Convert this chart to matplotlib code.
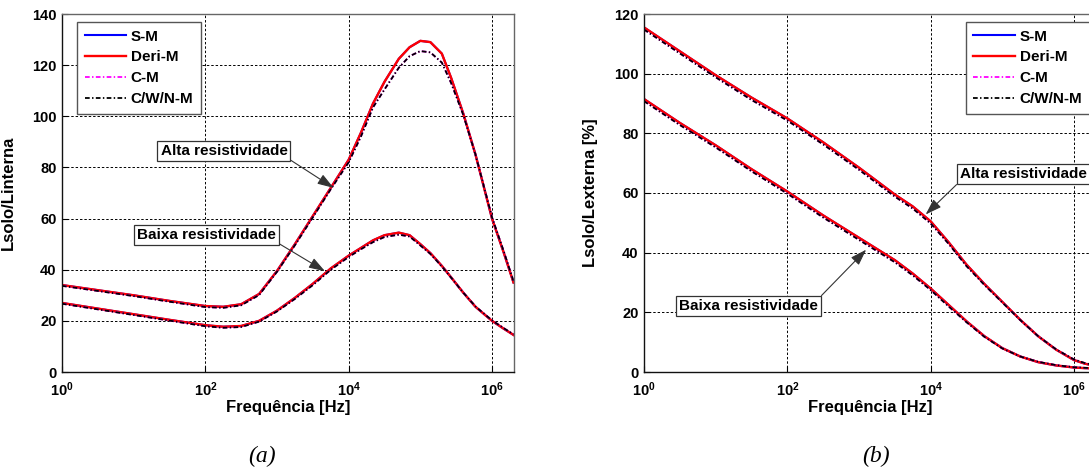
import numpy as np
import matplotlib
matplotlib.use("Agg")
import matplotlib.pyplot as plt

plt.rcParams["font.family"] = ["Liberation Sans", "DejaVu Sans"]
plt.rcParams["font.weight"] = "bold"
plt.rcParams["mathtext.fontset"] = "custom"
plt.rcParams["mathtext.bf"] = "Liberation Sans:bold"
plt.rcParams["mathtext.rm"] = "Liberation Sans"

# ---- data (frequency exponents, log10 Hz) ----
exp_a = [0, 0.5, 1, 1.5, 2, 2.25, 2.5, 2.75, 3, 3.25, 3.5, 3.75, 4, 4.17, 4.34,
         4.5, 4.7, 4.85, 5, 5.14, 5.3, 5.43, 5.6, 5.77, 6, 6.16, 6.3]

alta_deri_a = [34, 32, 30, 27.8, 25.8, 25.5, 26.5, 30.5, 39.5, 50, 61, 72, 83, 93.5, 105,
               113.5, 122.5, 127, 129.5, 129, 124.5, 115, 101, 85, 60, 47, 35]
alta_cwn_a = [33.7, 31.7, 29.7, 27.5, 25.4, 25.1, 26.1, 30.1, 39.2, 49.6, 60.5, 71.5, 82, 92, 103.5,
              110.5, 119, 123.5, 125.5, 125, 121, 113, 100.5, 85, 60.5, 47.5, 35.5]
baixa_deri_a = [27, 24.8, 22.6, 20.4, 18.3, 17.7, 18, 20, 24, 29, 34.5, 40.5, 45.5, 48.5, 51.5,
                53.5, 54.5, 53.5, 50, 46.5, 41.5, 37, 31, 25.5, 20, 17, 14.5]
baixa_cwn_a = [26.7, 24.5, 22.3, 20.1, 17.9, 17.3, 17.6, 19.7, 23.7, 28.6, 34, 40, 45, 48, 50.8,
               52.8, 53.7, 53, 49.5, 46.2, 41.3, 36.9, 31, 25.6, 20.2, 17.2, 14.7]

exp_b = [0, 0.5, 1, 1.5, 2, 2.5, 3, 3.5, 3.75, 4, 4.25, 4.5, 4.75, 5, 5.25, 5.5, 5.75,
         6, 6.15, 6.3]

alta_deri_b = [115.5, 107.5, 99.5, 92, 85, 77, 68.5, 59.5, 55.5, 50.5, 43.5, 36, 29.5, 23.5,
               17.5, 12, 7.5, 4, 2.8, 2]
alta_cwn_b = [114.8, 106.8, 98.8, 91.2, 84.3, 76.3, 67.8, 58.8, 54.8, 49.8, 43, 35.5, 29.2, 23.3,
              17.4, 12, 7.6, 4.2, 3, 2.2]
baixa_deri_b = [91.5, 83.5, 76, 68, 60.5, 52.5, 45, 37.5, 33, 28, 22.5, 17, 12, 8,
                5.2, 3.3, 2.2, 1.5, 1.3, 1.2]
baixa_cwn_b = [90.8, 82.8, 75.3, 67.3, 59.8, 51.8, 44.3, 36.8, 32.4, 27.5, 22, 16.7, 11.8, 7.9,
               5.2, 3.4, 2.3, 1.6, 1.4, 1.3]

# S-M lies under Deri-M and C-M under C/W/N-M in the picture
alta_sm_a, baixa_sm_a = alta_deri_a, baixa_deri_a
alta_cm_a, baixa_cm_a = alta_cwn_a, baixa_cwn_a
alta_sm_b, baixa_sm_b = alta_deri_b, baixa_deri_b
alta_cm_b, baixa_cm_b = alta_cwn_b, baixa_cwn_b

series_names = ["S-M", "Deri-M", "C-M", "C/W/N-M"]
xtick_exp = [0, 2, 4, 6]

W, H = 1089, 474
fig = plt.figure(figsize=(W / 100, H / 100), dpi=100)
ax_a = fig.add_axes([62 / W, 1 - 372 / H, 452 / W, 358 / H])
ax_b = fig.add_axes([644 / W, 1 - 372 / H, 452 / W, 358 / H])

dashdot = (0, (2.6, 1.3, 0.8, 1.3))


def draw(ax, exps, sm, deri, cm, cwn):
    f = 10.0 ** np.array(exps)
    for i in range(len(sm)):
        ax.plot(f, sm[i], color="blue", lw=1.5, label=series_names[0] if i == 0 else None)
        ax.plot(f, deri[i], color="red", lw=1.7, label=series_names[1] if i == 0 else None)
        ax.plot(f, cm[i], color="magenta", lw=1.3, ls=dashdot, label=series_names[2] if i == 0 else None)
        ax.plot(f, cwn[i], color="black", lw=1.3, ls=dashdot, label=series_names[3] if i == 0 else None)


draw(ax_a, exp_a, [alta_sm_a, baixa_sm_a], [alta_deri_a, baixa_deri_a],
     [alta_cm_a, baixa_cm_a], [alta_cwn_a, baixa_cwn_a])
draw(ax_b, exp_b, [alta_sm_b, baixa_sm_b], [alta_deri_b, baixa_deri_b],
     [alta_cm_b, baixa_cm_b], [alta_cwn_b, baixa_cwn_b])

for ax, ymax, ylab, legx in [(ax_a, 140, "Lsolo/Linterna", 0.033),
                             (ax_b, 120, "Lsolo/Lexterna [%]", 0.712)]:
    ax.set_xscale("log")
    ax.set_xlim(1, 10 ** 6.307)
    ax.set_ylim(0, ymax)
    ax.set_yticks(np.arange(0, ymax + 1, 20))
    ax.set_xticks([10.0 ** e for e in xtick_exp],
                  [r"$\mathbf{10^{%d}}$" % e for e in xtick_exp])
    ax.minorticks_off()
    ax.tick_params(direction="in", length=4, width=0.8, labelsize=10.5)
    ax.tick_params(axis="x", pad=6)
    ax.tick_params(axis="y", pad=4)
    ax.grid(True, color="black", lw=0.7, ls=(0, (2.5, 2)))
    for s in ["left", "bottom"]:
        ax.spines[s].set_color("#111")
    for s in ["top", "right"]:
        ax.spines[s].set_color("#666")
    for s in ax.spines.values():
        s.set_linewidth(1.0)
    ax.set_xlabel("Frequência [Hz]", fontsize=12, fontweight="bold")
    ax.set_ylabel(ylab, fontsize=12, fontweight="bold")
    ax.xaxis.set_label_coords(0.5, -0.078)
    ax.yaxis.set_label_coords(-0.102, 0.5)
    leg = ax.legend(loc="upper left", bbox_to_anchor=(legx, 0.978), borderaxespad=0,
                    fancybox=False, framealpha=1, edgecolor="#555",
                    prop={"weight": "bold", "size": 11}, handlelength=2.7,
                    handletextpad=0.33, labelspacing=0.45, borderpad=0.5)
    leg.get_frame().set_linewidth(1.0)

box = dict(boxstyle="square,pad=0.2", fc="white", ec="#333", lw=0.9)
arrow = dict(arrowstyle="-|>,head_width=0.3,head_length=0.9", color="#333", lw=0.8,
             shrinkA=0, shrinkB=0)

ax_a.annotate("Alta resistividade", xy=(10 ** 3.79, 72), xytext=(10 ** 2.26, 86.4),
              ha="center", va="center", fontsize=11, fontweight="bold", bbox=box,
              arrowprops=dict(arrow, relpos=(1, 0)))
ax_a.annotate("Baixa resistividade", xy=(10 ** 3.67, 39.4), xytext=(10 ** 2.02, 53.6),
              ha="center", va="center", fontsize=11, fontweight="bold", bbox=box,
              arrowprops=dict(arrow, relpos=(1, 0)))
ax_b.annotate("Alta resistividade", xy=(10 ** 3.93, 52.8), xytext=(10 ** 4.41, 66.3),
              ha="left", va="center", fontsize=11, fontweight="bold", bbox=box,
              arrowprops=dict(arrow, relpos=(0, 0)))
ax_b.annotate("Baixa resistividade", xy=(10 ** 3.10, 41), xytext=(10 ** 1.46, 22.1),
              ha="center", va="center", fontsize=11, fontweight="bold", bbox=box,
              arrowprops=dict(arrow, relpos=(1, 1)))

for xc, lab in [(262, "(a)"), (876, "(b)")]:
    fig.text(xc / W, 1 - 456 / H, lab, family="Liberation Serif", style="italic",
             fontweight="normal", fontsize=17, ha="center", va="center")

fig.savefig("out.png", dpi=100)
